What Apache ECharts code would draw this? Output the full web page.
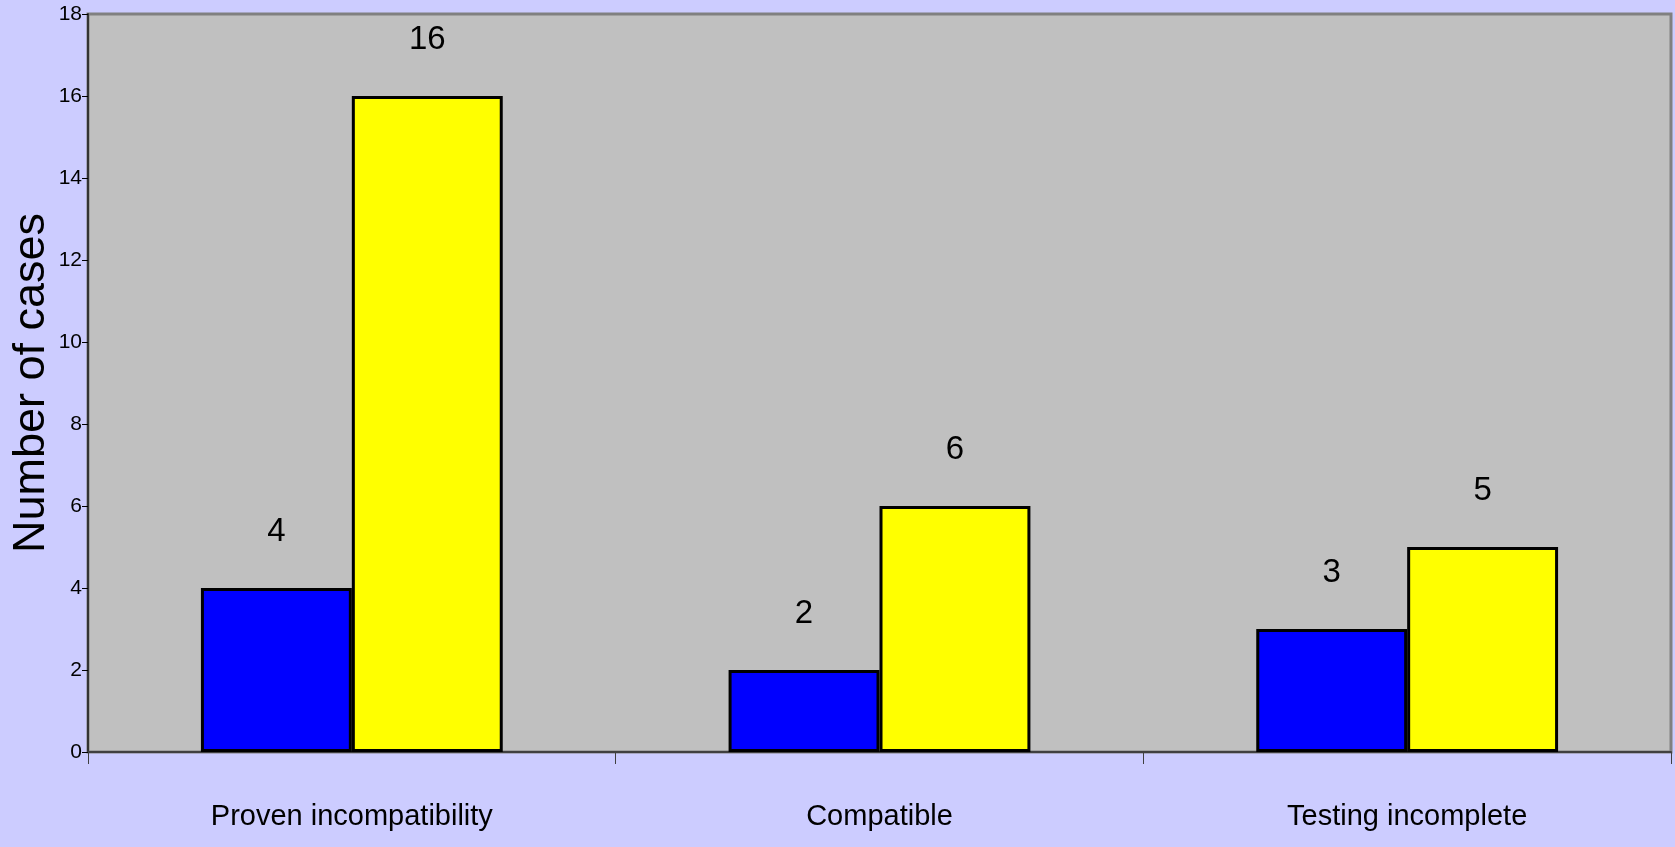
<!DOCTYPE html>
<html>
<head>
<meta charset="utf-8">
<script src="https://cdn.jsdelivr.net/npm/echarts@6/dist/echarts.min.js"></script>
<style>
    html, body { margin: 0; padding: 0; background: #ccccff; }
    #chart { width: 1675px; height: 847px; }
</style>
</head>
<body>
<div id="chart"></div>
<script>
    // data
    var categories = ['Proven incompatibility', 'Compatible', 'Testing incomplete'];
    var blueValues = [4, 2, 3];
    var yellowValues = [16, 6, 5];
    var yTicks = { min: 0, max: 18, interval: 2 };

    var narrow = '"Liberation Sans Narrow", "Liberation Sans", sans-serif';

    var chart = echarts.init(document.getElementById('chart'));
    var labelStyle = {
        show: true,
        position: 'top',
        distance: 40,
        color: '#000',
        fontFamily: narrow,
        fontSize: 33
    };
    chart.setOption({
        backgroundColor: '#ccccff',
        animation: false,
        grid: {
            left: 88,
            right: 4,
            top: 14,
            bottom: 95,
            outerBoundsMode: 'none',
            show: true,
            backgroundColor: '#c0c0c0',
            borderColor: '#808080',
            borderWidth: 3
        },
        xAxis: {
            type: 'category',
            data: categories,
            axisLine: { lineStyle: { color: '#404040', width: 2 } },
            axisTick: { show: true, length: 12, lineStyle: { color: '#404040', width: 1 } },
            axisLabel: {
                margin: 50,
                color: '#000',
                fontFamily: narrow,
                fontSize: 29
            }
        },
        yAxis: {
            type: 'value',
            min: yTicks.min,
            max: yTicks.max,
            interval: yTicks.interval,
            name: 'Number of cases',
            nameLocation: 'middle',
            nameRotate: 90,
            nameGap: 34,
            nameMoveOverlap: false,
            nameTextStyle: {
                color: '#000',
                fontFamily: '"Liberation Sans", sans-serif',
                fontSize: 45
            },
            axisLine: { show: true, lineStyle: { color: '#333', width: 2 } },
            axisTick: { show: true, length: 6, lineStyle: { color: '#000' } },
            axisLabel: {
                margin: 6,
                color: '#000',
                fontFamily: narrow,
                fontSize: 21
            },
            splitLine: { show: false }
        },
        series: [
            {
                name: 'Series 1',
                type: 'bar',
                data: blueValues,
                barWidth: '28.6%',
                barGap: '0%',
                itemStyle: { color: '#0000ff', borderColor: '#000', borderWidth: 3 },
                label: labelStyle
            },
            {
                name: 'Series 2',
                type: 'bar',
                data: yellowValues,
                barWidth: '28.6%',
                itemStyle: { color: '#ffff00', borderColor: '#000', borderWidth: 3 },
                label: labelStyle
            }
        ]
    });
</script>
</body>
</html>
